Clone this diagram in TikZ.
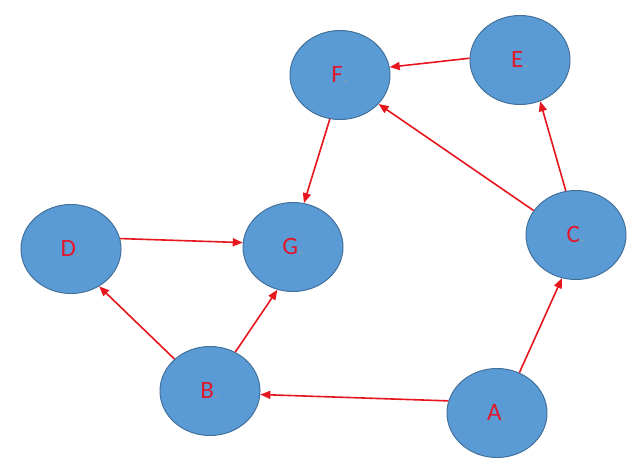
\documentclass[tikz,border=0pt]{standalone}
\usepackage{fontspec}
\setmainfont{Carlito}
\newfontfamily\symfont{DejaVu Sans}
\usetikzlibrary{shapes.geometric,arrows.meta}
\definecolor{nodefill}{HTML}{5B9BD5}
\definecolor{nodeline}{HTML}{41719C}
\definecolor{lettred}{HTML}{E0182B}
\definecolor{arrred}{HTML}{E6161E}
\definecolor{pmark}{HTML}{8FA7A0}
\tikzset{
  vnode/.style={ellipse, draw=nodeline, line width=1pt, fill=nodefill,
    minimum width=100pt, minimum height=89pt, inner sep=0pt,
    text=lettred, font=\fontsize{25}{25}\selectfont},
  edge/.style={draw=arrred, line width=1.6pt, -{Triangle[length=10pt,width=8pt]}}
}
\newcommand{\parmark}[1]{#1\hspace{0.5pt}\raisebox{-1pt}{\textcolor{pmark}{\symfont\fontsize{6}{6}\selectfont ↵}}}
\begin{document}
\begin{tikzpicture}[x=1pt,y=-1pt]
\useasboundingbox (0,0) rectangle (639,473);
\fill[white] (0,0) rectangle (639,473);
\node[vnode] (F) at (340,75) {\parmark{F}};
\node[vnode] (E) at (520,60) {\parmark{E}};
\node[vnode] (C) at (576,235) {\parmark{C}};
\node[vnode] (D) at (71,249) {\parmark{D}};
\node[vnode] (G) at (293,247) {\parmark{G}};
\node[vnode] (B) at (210,391) {\parmark{B}};
\node[vnode] (A) at (497,413) {\parmark{A}};
\draw[edge] (E.178) -- (F.9);
\draw[edge] (C.150) -- (F.323);
\draw[edge] (C.103) -- (E.296);
\draw[edge] (F.257) -- (G.76);
\draw[edge] (D.12) -- (G.175);
\draw[edge] (B.138) -- (D.307);
\draw[edge] (B.57) -- (G.250);
\draw[edge] (A.166) -- (B.356);
\draw[edge] (A.61) -- (C.252);
\end{tikzpicture}
\end{document}
